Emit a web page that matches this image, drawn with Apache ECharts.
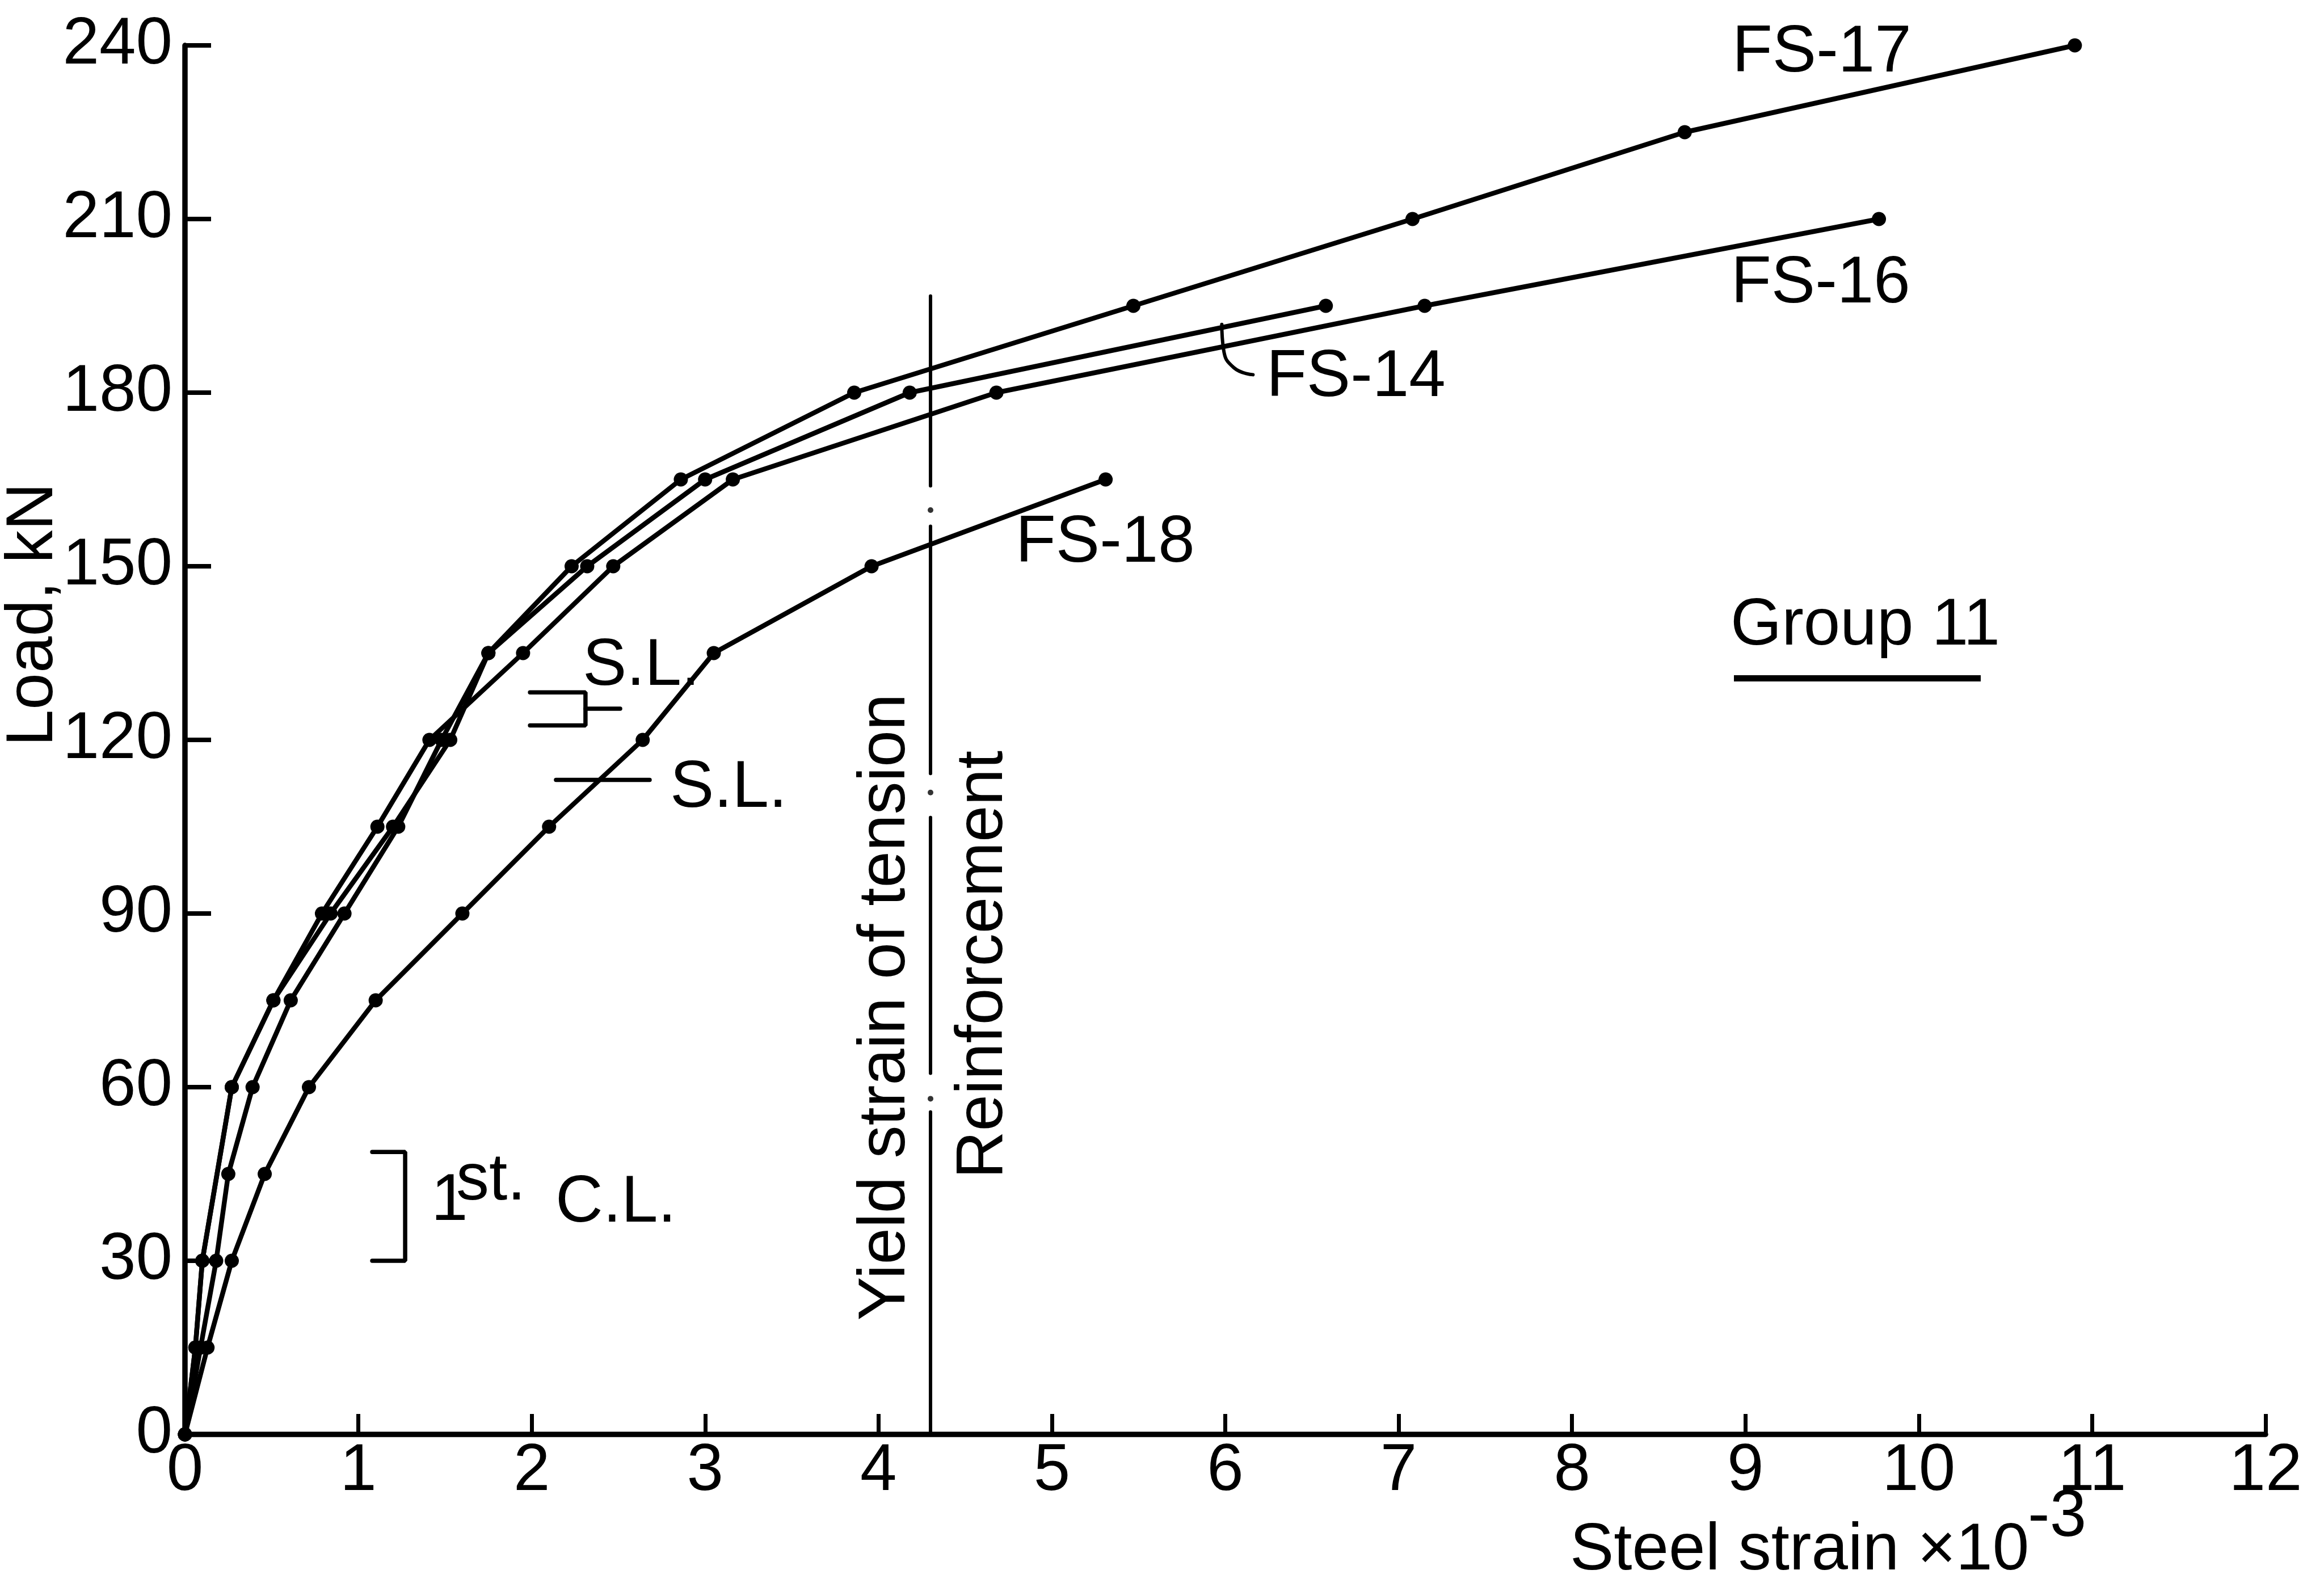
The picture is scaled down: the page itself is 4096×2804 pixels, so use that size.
<!DOCTYPE html>
<html>
<head>
<meta charset="utf-8">
<title>Load vs steel strain – Group 11</title>
<script src="https://cdn.jsdelivr.net/npm/echarts@6/dist/echarts.min.js"></script>
<style>
  html, body { margin: 0; padding: 0; background: #fff; }
  #chart { width: 4096px; height: 2804px; }
</style>
</head>
<body>
<div id="chart"></div>
<script>
// Load steps (kN) and measured steel strain (x10^-3) for each specimen
const fs17Strain = [0, 0.06, 0.10, 0.27, 0.51, 0.84, 1.20, 1.53, 1.75, 2.23, 2.86, 3.86, 5.47, 7.08, 8.65, 10.90];
const fs17Load   = [0, 15, 30, 60, 75, 90, 105, 120, 135, 150, 165, 180, 195, 210, 225, 240];

const fs14Strain = [0, 0.09, 0.18, 0.25, 0.39, 0.61, 0.92, 1.23, 1.48, 1.75, 2.32, 3.00, 4.18, 6.58];
const fs14Load   = [0, 15, 30, 45, 60, 75, 90, 105, 120, 135, 150, 165, 180, 195];

const fs16Strain = [0, 0.06, 0.10, 0.27, 0.51, 0.79, 1.11, 1.41, 1.95, 2.47, 3.16, 4.68, 7.15, 9.77];
const fs16Load   = [0, 15, 30, 60, 75, 90, 105, 120, 135, 150, 165, 180, 195, 210];

const fs18Strain = [0, 0.13, 0.27, 0.46, 0.715, 1.10, 1.60, 2.10, 2.64, 3.05, 3.96, 5.31];
const fs18Load   = [0, 15, 30, 45, 60, 75, 90, 105, 120, 135, 150, 165];

// Yield strain of the tension reinforcement (dash-dot vertical line)
const yieldStrain = 4.3;
const yieldSegments = [[196.7, 163.9], [156.9, 114.2], [106.6, 62.4], [55.7, 0]];
const yieldDots = [159.7, 110.9, 58.0];

// Serviceability load and first cracking load markers (strain, load)
const slUpperBracket = [[1.99, 128.2], [2.31, 128.2], [2.31, 122.5], [1.99, 122.5]];
const slUpperStub    = [[2.31, 125.4], [2.51, 125.4]];
const slLower        = [[2.14, 113.1], [2.68, 113.1]];
const crackBracket   = [[1.08, 48.8], [1.27, 48.8], [1.27, 30.0], [1.08, 30.0]];
const fs14Leader     = [[5.98, 191.8], [5.99, 187.5], [6.05, 184.3], [6.16, 183.1]];

// Axis ticks
const xTicks = { min: 0, max: 12, step: 1 };
const yTicks = { min: 0, max: 240, step: 30 };

const FONT = "'Liberation Sans', Arial, sans-serif";
const FS = 116;
const INK = '#000';

function pairs(xs, ys) { return xs.map((x, i) => [x, ys[i]]); }

function curve(name, xs, ys) {
  return {
    name, type: 'line', data: pairs(xs, ys),
    symbol: 'circle', symbolSize: 25, showAllSymbol: true,
    lineStyle: { color: INK, width: 8.5 }, itemStyle: { color: INK },
    z: 3
  };
}

function plainLine(data, width, smooth) {
  return {
    type: 'line', data, symbol: 'none', smooth: !!smooth,
    lineStyle: { color: INK, width, cap: 'round' }, z: 2, silent: true
  };
}

const series = [
  curve('FS-17', fs17Strain, fs17Load),
  curve('FS-14', fs14Strain, fs14Load),
  curve('FS-16', fs16Strain, fs16Load),
  curve('FS-18', fs18Strain, fs18Load)
];
yieldSegments.forEach(s => series.push(plainLine([[yieldStrain, s[0]], [yieldStrain, s[1]]], 6)));
series.push({
  type: 'scatter', data: yieldDots.map(v => [yieldStrain, v]),
  symbol: 'circle', symbolSize: 10, itemStyle: { color: INK }, silent: true
});
series.push(plainLine(slUpperBracket, 7.5));
series.push(plainLine(slUpperStub, 7.5));
series.push(plainLine(slLower, 7.5));
series.push(plainLine(crackBracket, 7.5));
series.push(plainLine(fs14Leader, 6, 0.6));

function txt(text, x, y, opts) {
  return Object.assign({
    type: 'text', x, y,
    style: Object.assign({
      text, font: FS + 'px ' + FONT, fill: INK,
      align: 'left', verticalAlign: 'middle'
    }, (opts && opts.style) || {})
  }, opts && opts.rotation ? { rotation: opts.rotation } : {});
}

const graphic = [
  txt('FS-17', 3053, 94),
  txt('FS-16', 3051, 501),
  txt('FS-14', 2232, 666),
  txt('FS-18', 1790, 958),
  txt('Group 11', 3050, 1104),
  { type: 'rect', shape: { x: 3056, y: 1190, width: 435, height: 11 }, style: { fill: INK } },
  txt('S.L.', 1027, 1175),
  txt('S.L.', 1181, 1390),
  txt('1', 760, 2118),
  txt('st.', 804, 2082),
  txt('C.L.', 979, 2121),
  txt('Steel strain ×10', 2767, 2734),
  txt('-3', 3574, 2675),
  txt('Load, kN', 60, 1083, { rotation: Math.PI / 2, style: { align: 'center' } }),
  txt('Yield strain of tension', 1562, 1775, { rotation: Math.PI / 2, style: { align: 'center' } }),
  txt('Reinforcement', 1734, 1700, { rotation: Math.PI / 2, style: { align: 'center' } })
];

const chart = echarts.init(document.getElementById('chart'), null, { renderer: 'canvas' });
chart.setOption({
  animation: false,
  backgroundColor: '#fff',
  grid: { left: 326, right: 103, top: 80, bottom: 276 },
  xAxis: {
    type: 'value', min: xTicks.min, max: xTicks.max, interval: xTicks.step,
    axisLine: { onZero: false, lineStyle: { color: INK, width: 9.5 } },
    axisTick: { inside: true, length: 36, lineStyle: { color: INK, width: 7 } },
    axisLabel: { color: INK, fontSize: FS, fontFamily: FONT, margin: 8 },
    splitLine: { show: false }
  },
  yAxis: {
    type: 'value', min: yTicks.min, max: yTicks.max, interval: yTicks.step,
    axisLine: { onZero: false, lineStyle: { color: INK, width: 9.5 } },
    axisTick: { inside: true, length: 46, lineStyle: { color: INK, width: 8 } },
    axisLabel: { color: INK, fontSize: FS, fontFamily: FONT, margin: 22 },
    splitLine: { show: false }
  },
  series,
  graphic
});
</script>
</body>
</html>
